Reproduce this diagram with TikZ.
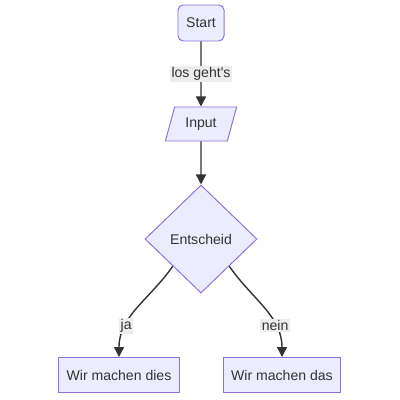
\documentclass[tikz,border=0pt]{standalone}
\usepackage{fontspec}
\setmainfont{Liberation Sans}
\usetikzlibrary{arrows.meta,shapes.geometric}
\definecolor{nodefill}{HTML}{ECECFF}
\definecolor{nodeline}{HTML}{9370DB}
\definecolor{edgeline}{HTML}{333333}
\definecolor{labelbg}{HTML}{EDEDED}

\begin{document}
\begin{tikzpicture}[
    x=0.025cm, y=-0.025cm,
    box/.style={draw=nodeline, line width=0.7pt, fill=nodefill, text=edgeline, font=\fontsize{10}{12}\selectfont, inner sep=2pt},
    startbox/.style={box, rounded corners=1.3mm, minimum width=1.15cm, minimum height=0.9cm},
    inbox/.style={box, trapezium, trapezium left angle=63, trapezium right angle=117, trapezium stretches body=true, inner xsep=1pt, minimum width=1.78cm, minimum height=0.85cm},
    decide/.style={box, diamond, minimum width=2.8cm, minimum height=2.7cm, inner sep=0pt},
    action/.style={box, minimum width=3cm, minimum height=0.875cm},
    arr/.style={-{Triangle[length=2.5mm, width=2.5mm]}, line width=1pt, draw=edgeline},
    elabel/.style={fill=labelbg, text=edgeline, font=\fontsize{10}{12}\selectfont, inner sep=1pt}
]
\useasboundingbox (0,0) rectangle (400,400);

% --- Nodes ---
\node[startbox] (start) at (201, 23) {Start};
\node[inbox] (input) at (201, 124) {Input};
\node[decide] (dec) at (201, 239) {Entscheid};
\node[action] (dies) at (119, 375) {Wir machen dies};
\node[action, minimum width=2.9cm] (das) at (282, 375) {Wir machen das};

% --- Edges ---
\draw[arr] (start) -- node[elabel] {los geht\textquotesingle s} (input);
\draw[arr] (input) -- (dec);

% Branches (curved down into the boxes)
\draw[arr] (dec.south west) to[out=-125, in=90] node[elabel, pos=0.7] {ja} (dies);
\draw[arr] (dec.south east) to[out=-55, in=90] node[elabel, pos=0.7] {nein} (das);

\end{tikzpicture}
\end{document}
